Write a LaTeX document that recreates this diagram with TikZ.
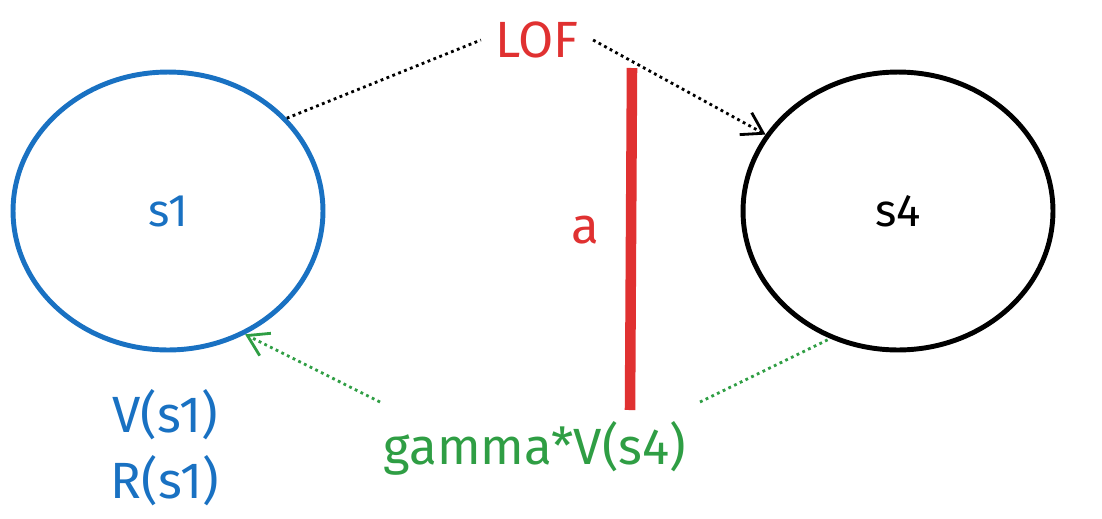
\documentclass[tikz,border=0pt]{standalone}
\usepackage{fontspec}
\setmainfont{Fira Sans}
\usetikzlibrary{arrows.meta, positioning, shapes.geometric}
\definecolor{sblue}{HTML}{1971C2}
\definecolor{sred}{HTML}{E03131}
\definecolor{sgreen}{HTML}{2F9E44}
\tikzset{%
	state/.style={draw, ellipse, line width=2.8pt, minimum width=6.2cm, minimum height=5.56cm,%
		font=\fontsize{26}{30}\selectfont},
	lbl/.style={font=\fontsize{29}{33}\selectfont, inner sep=0pt},
	link/.style={dotted, line width=1.6pt},
	tip/.style={-{Straight Barb[length=4mm, width=5mm]}}
}
\begin{document}
\begin{tikzpicture}[x=0.02cm, y=-0.02cm]
	\useasboundingbox (0,0) rectangle (1102,518);
	\node[state, sblue, text=sblue] (s1) at (168,211) {s1};
	\node[state] (s4) at (898,211) {s4};
	\node[lbl, sred] (lof) at (537,40) {LOF};
	\node[lbl, sred] (a) at (585,230) {a};
	\node[lbl, sblue] (v1) at (165,415) {V(s1)};
	\node[lbl, sblue, below=0.3cm of v1] (r1) {R(s1)};
	\node[lbl, sgreen] (g4) at (535,448) {gamma*V(s4)};
	\coordinate (top) at (632,68);
	\coordinate (bot) at (630,410);
	\coordinate (g1) at (380,402);
	\coordinate (g2) at (700,402);
	\draw[sred, line width=6pt] (top) -- (bot);
	\draw[link] (s1.38) -- ([xshift=-8pt]lof.west);
	\draw[link, tip] ([xshift=8pt]lof.east) -- (s4.150);
	\draw[link, sgreen, tip] (g1) -- (s1.-58);
	\draw[link, sgreen] (g2) -- (s4.-118);
\end{tikzpicture}
\end{document}
